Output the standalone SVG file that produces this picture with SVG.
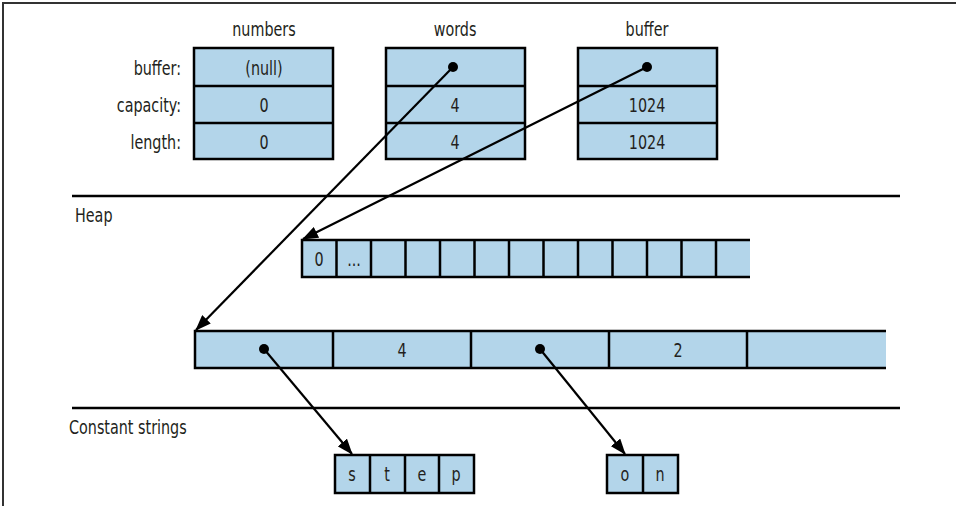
<svg xmlns="http://www.w3.org/2000/svg" width="956" height="506" viewBox="0 0 956 506">
<style>
text{font-family:"DejaVu Sans Condensed","Liberation Sans",sans-serif;font-size:19px;fill:#231f20}
.c{text-anchor:middle}
.r{text-anchor:end}
.box{fill:#b3d5ea;stroke:#000;stroke-width:2.5}
.ln{stroke:#000;stroke-width:2.5;fill:none}
.sep{stroke:#000;stroke-width:2.5}
.arr{stroke:#000;stroke-width:2.2;fill:none;marker-end:url(#ah)}
.dot{fill:#000}
</style>
<defs>
<marker id="ah" viewBox="0 0 16 12" refX="15" refY="6" markerWidth="16" markerHeight="12" markerUnits="userSpaceOnUse" orient="auto">
<path d="M0,0 L16,6 L0,12 Z" fill="#000"/>
</marker>
</defs>
<rect width="956" height="506" fill="#fff"/>
<path d="M3,506 V3 H956" stroke="#333" stroke-width="2" fill="none"/>

<g id="field-labels">
<text class="r" transform="translate(181,75) scale(0.84,1)">buffer:</text>
<text class="r" transform="translate(181,112) scale(0.84,1)">capacity:</text>
<text class="r" transform="translate(181,149) scale(0.84,1)">length:</text>
</g>

<g id="numbers">
<text class="c" transform="translate(264,36) scale(0.84,1)">numbers</text>
<rect class="box" x="194" y="48" width="139" height="111"/>
<path class="ln" d="M194,86 H333 M194,123 H333"/>
<text class="c" transform="translate(264,75) scale(0.84,1)">(null)</text>
<text class="c" transform="translate(264,112) scale(0.84,1)">0</text>
<text class="c" transform="translate(264,149) scale(0.84,1)">0</text>
</g>

<g id="words">
<text class="c" transform="translate(455,36) scale(0.84,1)">words</text>
<rect class="box" x="386" y="48" width="139" height="111"/>
<path class="ln" d="M386,86 H525 M386,123 H525"/>
<circle class="dot" cx="453" cy="67" r="5"/>
<text class="c" transform="translate(455,112) scale(0.84,1)">4</text>
<text class="c" transform="translate(455,149) scale(0.84,1)">4</text>
</g>

<g id="buffer">
<text class="c" transform="translate(647,36) scale(0.84,1)">buffer</text>
<rect class="box" x="578" y="48" width="139" height="111"/>
<path class="ln" d="M578,86 H717 M578,123 H717"/>
<circle class="dot" cx="647" cy="67" r="5"/>
<text class="c" transform="translate(647,112) scale(0.84,1)">1024</text>
<text class="c" transform="translate(647,149) scale(0.84,1)">1024</text>
</g>

<g id="separators">
<line class="sep" x1="72" y1="196" x2="900" y2="196"/>
<text transform="translate(75,222) scale(0.84,1)">Heap</text>
<line class="sep" x1="72" y1="408" x2="900" y2="408"/>
<text transform="translate(69,434) scale(0.84,1)">Constant strings</text>
</g>

<g id="heap-buffer">
<rect x="302" y="240" width="448" height="37" fill="#b3d5ea"/>
<path class="ln" d="M750,240 H302 V277 H750 M336.5,240 V277 M371,240 V277 M405.5,240 V277 M440,240 V277 M474.5,240 V277 M509,240 V277 M543.5,240 V277 M578,240 V277 M612.5,240 V277 M647,240 V277 M681.5,240 V277 M716,240 V277"/>
<text class="c" transform="translate(319,266) scale(0.84,1)">0</text>
<text class="c" transform="translate(354,266) scale(0.84,1)">...</text>
</g>

<g id="heap-words">
<rect x="195" y="331" width="691" height="37" fill="#b3d5ea"/>
<path class="ln" d="M886,331 H195 V368 H886 M333,331 V368 M471,331 V368 M609,331 V368 M747,331 V368"/>
<circle class="dot" cx="264" cy="349" r="5"/>
<text class="c" transform="translate(402,357) scale(0.84,1)">4</text>
<circle class="dot" cx="540" cy="349" r="5"/>
<text class="c" transform="translate(678,357) scale(0.84,1)">2</text>
</g>

<g id="str-step">
<rect class="box" x="335" y="455" width="139" height="38"/>
<path class="ln" d="M370,455 V493 M405,455 V493 M439,455 V493"/>
<text class="c" transform="translate(352,481) scale(0.84,1)">s</text>
<text class="c" transform="translate(387,481) scale(0.84,1)">t</text>
<text class="c" transform="translate(422,481) scale(0.84,1)">e</text>
<text class="c" transform="translate(456,481) scale(0.84,1)">p</text>
</g>

<g id="str-on">
<rect class="box" x="607" y="455" width="71" height="38"/>
<path class="ln" d="M643,455 V493"/>
<text class="c" transform="translate(625,481) scale(0.84,1)">o</text>
<text class="c" transform="translate(660,481) scale(0.84,1)">n</text>
</g>

<g id="connectors">
<line class="arr" x1="453" y1="67" x2="196" y2="330"/>
<line class="arr" x1="647" y1="67" x2="303" y2="239"/>
<line class="arr" x1="264" y1="349" x2="352" y2="454"/>
<line class="arr" x1="540" y1="349" x2="625" y2="454"/>
</g>
</svg>
